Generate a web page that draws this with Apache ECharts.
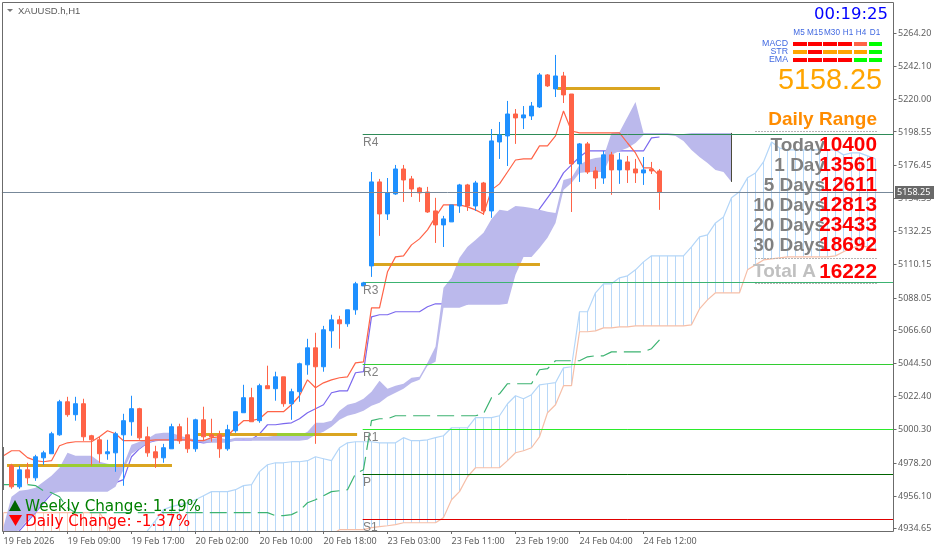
<!DOCTYPE html>
<html><head><meta charset="utf-8">
<style>html,body{margin:0;padding:0;background:#fff}#c{width:939px;height:552px}</style>
<script src="https://cdn.jsdelivr.net/npm/echarts@6/dist/echarts.min.js"></script>
</head><body><div id="c"></div>
<script>
const tickLabels=["19 Feb 2026","19 Feb 09:00","19 Feb 17:00","20 Feb 02:00","20 Feb 10:00","20 Feb 18:00","23 Feb 03:00","23 Feb 11:00","23 Feb 19:00","24 Feb 04:00","24 Feb 12:00"];
const priceTicks=[5264.20,5242.10,5220.00,5198.55,5176.45,5154.35,5132.25,5110.15,5088.05,5066.60,5044.50,5022.40,5000.30,4978.20,4956.10,4934.65];
// open, close, low, high
const candles=[
[4976.4,4962.4,4961.1,4977.7],[4962.4,4973.7,4961.1,4976.4],[4973.7,4968.4,4964.4,4978.4],[4968.4,4982.4,4966.4,4983.7],[4981.7,4985.0,4977.0,4986.4],[4984.4,4997.7,4984.4,4999.0],[4997.0,5019.0,4996.4,5020.3],[5019.0,5010.4,5009.0,5022.3],[5010.4,5017.7,5006.4,5022.3],[5017.7,4995.7,4993.0,5021.0],
[4996.4,4993.7,4976.4,4997.0],[4993.7,4984.4,4978.4,4995.7],[4984.4,4985.7,4980.4,4993.7],[4985.0,4997.7,4972.4,4999.0],[4997.0,5006.4,4963.1,5011.0],[5005.7,5014.4,4996.4,5023.0],[5014.4,4995.0,4993.7,5015.0],[4995.7,4985.0,4982.4,5002.4],[4985.7,4981.7,4975.0,4989.7],[4981.7,4988.4,4978.4,4991.0],
[4987.7,5002.4,4987.7,5004.4],[5002.4,4993.0,4991.0,5004.4],[4997.0,4987.7,4985.0,5008.4],[4987.7,5007.0,4985.7,5007.7],[5007.0,4995.7,4993.0,5015.7],[4997.0,4995.7,4992.4,5007.7],[4997.0,4987.7,4981.7,4999.7],[4987.7,5000.4,4986.4,5003.7],[4999.7,5012.4,4998.4,5012.4],[5011.7,5021.7,5011.7,5030.3],
[5021.7,5005.7,5005.7,5028.3],[5006.4,5029.7,5005.0,5031.0],[5029.7,5027.7,5027.7,5043.0],[5027.7,5035.6,5019.7,5039.0],[5035.6,5017.7,5015.7,5035.6],[5017.7,5025.7,5007.0,5027.7],[5025.7,5044.3,5019.0,5045.0],[5043.6,5054.9,5037.0,5060.9],[5054.9,5042.3,4991.0,5064.9],[5042.3,5066.9,5039.0,5069.5],
[5066.2,5073.5,5054.9,5076.9],[5073.5,5070.9,5054.3,5076.2],[5070.9,5080.2,5068.9,5080.2],[5080.2,5097.5,5076.9,5098.8],[5096.1,5098.1,5096.1,5098.8],[5109.4,5165.3,5102.1,5171.9],[5165.3,5144.0,5129.4,5167.3],[5144.0,5158.0,5140.0,5167.9],[5157.3,5173.9,5156.7,5176.6],[5173.9,5166.6,5152.0,5176.6],
[5167.3,5160.6,5155.3,5169.3],[5161.3,5158.0,5152.0,5162.0],[5158.6,5145.3,5144.7,5162.0],[5146.0,5136.7,5124.7,5154.7],[5136.7,5140.7,5122.0,5142.7],[5138.7,5150.0,5138.7,5150.0],[5149.3,5163.3,5144.7,5164.0],[5163.3,5149.3,5146.0,5164.0],[5149.3,5164.6,5146.0,5166.0],[5164.6,5146.0,5143.3,5165.3],
[5146.0,5192.6,5141.4,5200.5],[5191.9,5196.6,5180.6,5205.2],[5195.9,5210.5,5175.9,5219.2],[5210.5,5207.9,5190.6,5213.8],[5207.9,5209.9,5200.5,5215.8],[5209.2,5215.8,5206.5,5218.5],[5215.2,5236.5,5214.5,5237.8],[5236.5,5229.2,5228.5,5237.1],[5227.2,5235.8,5221.8,5249.8],[5235.8,5223.2,5217.8,5238.5],
[5223.8,5177.3,5145.3,5223.8],[5177.3,5190.6,5165.3,5191.2],[5190.6,5171.9,5170.6,5191.9],[5172.6,5167.9,5160.6,5175.3],[5167.9,5183.3,5164.0,5185.9],[5183.3,5173.3,5156.7,5185.3],[5173.3,5179.9,5164.0,5184.6],[5178.6,5173.3,5164.6,5182.6],[5173.9,5171.3,5164.6,5180.6],[5171.3,5173.3,5163.3,5181.9],
[5173.9,5172.6,5170.6,5178.6],[5172.6,5158.25,5146.7,5173.9]];
const tenkan=[4983.1,4986.4,4986.4,4981.8,4979.8,4979.1,4979.8,4989.7,4991.7,4992.4,4992.4,4992.4,4995.7,4999.7,4997.7,4993.1,4993.1,4993.1,4993.1,4993.7,4993.7,4993.7,4993.7,4993.7,4993.1,4993.1,4995.1,4995.7,4996.4,5001.7,5006.4,5006.4,5007.7,5012.4,5012.4,5012.4,5017.0,5023.0,5033.6,5028.3,5031.6,5033.6,5035.0,5035.6,5044.9,5045.6,5081.5,5081.5,5105.5,5115.4,5116.1,5123.4,5127.4,5133.4,5142.0,5150.0,5150.0,5150.0,5148.7,5146.7,5144.0,5160.0,5164.0,5171.9,5179.9,5180.6,5180.6,5189.3,5189.3,5195.9,5212.5,5199.2,5197.9,5197.9,5197.9,5197.9,5197.9,5197.9,5191.2,5184.6,5174.6,5174.6,5169.3];
const kijun=[null,4929.2,4933.2,4939.2,4945.2,4951.8,4957.8,4963.2,4964.5,4964.5,4965.2,4965.2,4965.2,4965.2,4965.2,4967.2,4982.4,4987.8,4991.7,4993.1,4993.7,4993.7,4993.7,4993.7,4992.4,4991.7,4992.4,4993.1,4993.7,4993.7,4993.7,4993.7,4997.7,5003.7,5003.7,5004.4,5005.0,5007.7,5011.7,5014.4,5017.0,5025.0,5026.3,5026.3,5038.3,5039.0,5075.5,5076.9,5076.9,5078.9,5078.9,5078.9,5078.9,5082.2,5084.2,5084.2,5084.2,5084.2,5084.2,5086.8,5088.8,5095.5,5100.8,5105.5,5106.8,5128.1,5140.0,5147.3,5154.7,5162.0,5171.3,5176.6,5181.9,5185.9,5185.9,5185.9,5185.9,5185.9,5185.9,5185.9,5185.9,5194.6,5195.2];
const cloudUpper=[4935.9,4955.8,4959.8,4960.5,4961.8,4965.8,4969.8,4975.1,4985.1,4983.1,4983.1,4983.1,4979.1,4977.8,4977.1,4977.1,4990.4,4992.4,4994.4,4997.7,4998.4,4998.4,4996.4,4995.1,4993.7,4993.7,4994.4,4995.1,4993.7,4995.1,4995.1,4995.1,4995.7,4995.7,4996.4,4997.1,4996.4,4996.4,4999.1,5005.0,5005.0,5006.4,5013.0,5017.0,5018.3,5021.0,5025.7,5033.0,5027.7,5029.7,5031.0,5035.0,5035.6,5044.9,5055.6,5094.8,5101.5,5114.8,5122.1,5126.7,5131.4,5140.7,5146.7,5146.0,5149.3,5148.7,5148.0,5146.7,5145.4,5144.7,5166.6,5168.0,5176.6,5179.9,5181.3,5181.9,5197.9,5198.6,5208.5,5218.5,5197.9,5197.9,5197.9,5197.9,5197.2,5197.2,5197.9,5197.9,5197.9,5197.9,5197.9,5197.9];
const cloudLower=[4932.6,4930.6,4933.9,4940.5,4945.2,4952.5,4957.8,4959.2,4959.2,4959.2,4959.2,4959.2,4959.2,4959.2,4962.5,4973.8,4984.4,4987.8,4991.7,4993.1,4993.1,4993.1,4993.1,4993.1,4992.4,4991.7,4991.7,4991.7,4991.7,4993.1,4993.7,4993.1,4993.1,4993.1,4993.1,4993.1,4993.1,4993.1,4993.7,4997.1,4999.1,5002.4,5007.0,5009.7,5011.0,5013.0,5016.3,5018.3,5022.3,5025.0,5027.7,5031.7,5033.6,5043.0,5045.6,5081.5,5081.5,5081.5,5083.5,5083.5,5083.5,5083.5,5083.5,5084.2,5103.5,5115.4,5115.4,5121.4,5128.1,5138.0,5160.0,5164.6,5171.3,5171.9,5171.9,5171.9,5183.3,5185.9,5187.9,5191.2,5196.6,5196.6,5196.6,5196.6,5195.9,5192.6,5186.6,5181.9,5177.9,5173.3,5171.9,5165.3];
const spanA=[4920,4920,4920,4920,4920,4920,4920,4920,4920,4920,4920,4920,4920,4920,4920,4920,4920,4920,4933.2,4939.9,4947.2,4949.2,4950.5,4951.8,4953.8,4956.5,4959.2,4959.2,4959.2,4960.5,4963.2,4963.8,4972.5,4977.1,4978.4,4978.4,4979.1,4979.1,4979.8,4982.4,4981.1,4979.8,4988.4,4991.7,4992.4,4992.4,4992.4,4991.7,4991.7,4991.7,4995.1,4993.1,4993.1,4993.7,4995.1,4996.4,5001.7,5001.7,5001.7,5008.4,5008.4,5008.4,5009.7,5017.7,5023.0,5021.0,5023.7,5030.3,5031.0,5031.7,5041.6,5042.3,5078.9,5078.9,5091.5,5097.5,5097.5,5101.5,5102.8,5106.8,5112.1,5116.1,5116.1,5116.1,5116.1,5116.1,5122.1,5128.7,5130.1,5138.0,5142.0,5154.7,5158.7,5168.0,5171.3,5178.6,5191.9,5187.9,5186.6,5186.6,5186.6,5186.6,5186.6,5186.6,5186.6,5183.3,5184.6,5184.6,5182.6,5180.6];
const spanB=[4945.2,4945.2,4945.2,4945.2,4945.2,4945.2,4945.2,4945.2,4945.2,4945.2,4945.2,4945.2,4945.2,4937.2,4924,4924,4924,4924,4924,4924,4924,4924,4924,4924,4924,4924,4924,4924,4924,4924,4924,4924,4924,4924,4924,4924,4924,4924,4924,4924,4924,4930.6,4933.9,4933.9,4933.9,4933.9,4935.2,4935.9,4936.5,4937.2,4938.5,4938.5,4938.5,4938.5,4938.5,4941.9,4953.8,4959.2,4969.1,4975.1,4975.1,4975.1,4975.1,4979.8,4985.1,4986.4,4988.4,4995.7,5011.7,5017.0,5029.7,5029.7,5065.6,5065.6,5066.2,5068.2,5068.2,5068.9,5068.9,5069.5,5069.5,5069.5,5069.5,5069.5,5069.5,5069.5,5070.2,5080.8,5086.8,5091.5,5091.5,5091.5,5091.5,5106.8,5110.1,5113.4,5114.1,5114.8,5115.4,5115.4,5115.4,5115.4,5115.4,5115.4,5116.1,5118.8,5121.4,5122.8,5122.1,5120.1];
const chikou=[4963.8,4963.8,4963.8,4963.8,4963.2,4959.8,4958.5,4955.8,4948.5,4945.2,4945.2,4945.2,4945.2,4945.2,4945.2,4945.2,4945.2,4945.2,4945.2,4945.2,4945.2,4945.2,4945.2,4945.2,4945.2,4945.2,4945.2,4945.2,4945.2,4945.2,4945.2,4945.2,4945.2,4945.2,4943.2,4943.2,4943.9,4946.5,4951.8,4953.8,4956.5,4959.2,4959.8,4960.5,4971.1,4973.8,5006.4,5007.7,5007.7,5009.7,5009.7,5009.7,5009.7,5009.7,5009.7,5009.7,5009.7,5009.7,5009.7,5009.7,5011.0,5021.7,5024.3,5031.0,5031.0,5031.0,5031.0,5040.3,5041.0,5046.3,5046.3,5046.3,5046.3,5048.9,5049.6,5049.6,5052.2,5052.2,5052.2,5052.2,5052.2,5054.3,5060.2];
// start bar, end bar, price
const goldSegments=[[0.44,21.06,4976.4],[24.3,44.2,4997.0],[46.2,67.06,5110.1],[69.2,82.06,5227.8]];
const greenSegments=[[6.8,14.06,4976.4],[34.2,38.9,4997.0],[56.8,64.2,5110.1]];
const pivotNames=["R4","R3","R2","R1","P","S1"];
const pivotPrices=[5197.0,5098.4,5043.9,5000.7,4970.8,4940.8];
const pivotColors=["#2E8B57","#3CB371","#32CD32","#2BEB2B","#006400","#E00000"];
const pivotLabelY=[143,291,373,438,483,528];
const lastPrice=5158.25;
const timeframes=["M5","M15","M30","H1","H4","D1"];
const signalNames=["MACD","STR","EMA"];
const R="#FF0000",O="#FFA500",G="#00FF00",T="#FF6347";
const signalColors=[[R,R,R,R,T,G],[O,R,O,O,O,G],[R,R,R,R,G,G]];
const rangeLabels=["Today","1 Day","5 Days","10 Days","20 Days","30 Days"];
const rangeValues=["10400","13561","12611","12813","23433","18692"];

const FONT='"Liberation Sans",Arial,sans-serif';
const N=112;
const categories=Array.from({length:N},(_,i)=>i%8===0&&tickLabels[i/8]?tickLabels[i/8]:'');
const isLabelled=i=>i%8===0&&i<=80;

const chart=echarts.init(document.getElementById('c'),null,{renderer:'canvas'});
const snap=v=>Math.floor(v)+0.5;
function segment(data,color,width,z,name){
  return {type:'custom',name,xAxisIndex:1,clip:false,z,data,encode:{x:[0,1],y:2},silent:true,
    renderItem(p,api){
      const c=typeof color==='function'?color(api.value(3)):color;
      const a=api.coord([api.value(0),api.value(2)]),b=api.coord([api.value(1),api.value(2)]);
      const y=snap(a[1]);
      return {type:'line',shape:{x1:a[0],y1:y,x2:b[0],y2:y},style:{stroke:c,lineWidth:width}};
    }};
}
function line(name,data,color,z,extra){
  return {type:'line',name,data,showSymbol:false,symbol:'none',silent:true,z,connectNulls:false,
    lineStyle:Object.assign({color,width:1.2},extra||{})};
}
const edgeIdx=cloudUpper.length-1;
const series=[
 {type:'custom',name:'hatch',z:1,silent:true,data:spanA.map((v,i)=>[i,v,spanB[i]]),encode:{x:0,y:[1,2]},
  renderItem(p,api){
    const a=api.coord([api.value(0),api.value(1)]),b=api.coord([api.value(0),api.value(2)]);
    const x=snap(a[0]);
    return {type:'line',shape:{x1:x,y1:a[1],x2:x,y2:b[1]},style:{stroke:api.value(1)>api.value(2)?'#B8D8F8':'#F8CDB8',lineWidth:1}};
  },clip:true},
 line('spanA',spanA,'#B4D6F8',2),
 line('spanB',spanB,'#F6BFA8',2),
 line('kijun',kijun,'#7B68EE',2),
 {type:'custom',name:'cloud',z:3,silent:true,clip:true,data:[[0,cloudUpper[0]]],encode:{x:0,y:1},
  renderItem(p,api){
    const pts=[];
    cloudUpper.forEach((v,i)=>pts.push(api.coord([i,v])));
    for(let i=cloudLower.length-1;i>=0;i--)pts.push(api.coord([i,cloudLower[i]]));
    return {type:'polygon',shape:{points:pts},style:{fill:'#BBB9EC'}};
  }},
 {type:'custom',name:'cloudEdge',z:4,silent:true,data:[[edgeIdx,cloudUpper[edgeIdx],cloudLower[edgeIdx]]],encode:{x:0,y:[1,2]},
  renderItem(p,api){const a=api.coord([api.value(0),api.value(1)]),b=api.coord([api.value(0),api.value(2)]);const x=snap(a[0]);
   return {type:'line',shape:{x1:x,y1:a[1],x2:x,y2:b[1]},style:{stroke:'#4a4a3a',lineWidth:1}};}},
 line('chikou',chikou,'#3CB371',4,{type:[17,7]}),
 line('tenkan',tenkan,'#FF6347',5),
 segment(goldSegments,'#DAA520',3,5,'gold'),
 segment(greenSegments,'#9ACD32',3,5,'goldOnCloud'),
 segment(pivotPrices.map((p,i)=>[44.9,111.19,p,i]),v=>pivotColors[v],1,6,'pivots'),
 {type:'candlestick',name:'XAUUSD.h',xAxisIndex:0,z:7,silent:true,barWidth:5,
  data:candles.map((c,i)=>[i+1,c[0],c[1],c[2],c[3]]),
  encode:{x:0,y:[1,2,3,4]},
  itemStyle:{color:'#1E90FF',color0:'#FF6347',borderColor:'#1E90FF',borderColor0:'#FF6347',borderColorDoji:'#1E90FF',borderWidth:1}},
 segment([[-0.2,111.19,lastPrice]],'#778899',1,8,'lastPrice'),
 // price-scale ticks, just outside the plot's right edge
 {type:'custom',name:'priceTicks',xAxisIndex:1,clip:false,z:9,silent:true,data:priceTicks.map(p=>[111.25,p]),encode:{x:0,y:1},
  renderItem(p,api){const a=api.coord([api.value(0),api.value(1)]);const y=snap(a[1]);
   return {type:'line',shape:{x1:a[0],y1:y,x2:a[0]+3,y2:y},style:{stroke:'#6b6b6b',lineWidth:1}};}}
];

const g=[];
const txt=(text,x,y,fill,font,align,extra)=>g.push(Object.assign({type:'text',z:50,x,y,silent:true,style:{text,x:0,y:0,fill,font,textAlign:align||'left',textVerticalAlign:'middle'}},extra||{}));
// frame
g.push({type:'rect',z:40,silent:true,shape:{x:2.5,y:2.5,width:891,height:529},style:{fill:'none',stroke:'#6b6b6b',lineWidth:1}});
g.push({type:'rect',z:40,silent:true,shape:{x:3,y:447,width:1,height:43},style:{fill:'#6b6b6b'}});
// header
g.push({type:'polygon',z:50,silent:true,shape:{points:[[7,9],[13,9],[10,12]]},style:{fill:'#777'}});
txt('XAUUSD.h,H1',18,11,'#5a5a5a','9.5px '+FONT);
txt('00:19:25',888,15,'#0000FF','16.5px "DejaVu Sans",sans-serif','right');
const tfX=[799,815,832,848,861,875];
timeframes.forEach((t,i)=>txt(t,tfX[i],33,'#4169E1','8.2px '+FONT,'center'));
const barX=[793,808,823,838,854,869],barW=[14,14,14,14,13,13],rowY=[42,50,58];
signalNames.forEach((s,r)=>{
  txt(s,788,rowY[r]+1.5,'#4169E1','8.8px '+FONT,'right');
  signalColors[r].forEach((c,i)=>g.push({type:'rect',z:50,silent:true,shape:{x:barX[i],y:rowY[r],width:barW[i],height:4},style:{fill:c}}));
});
txt('5158.25',882,81,'#FFA500','28.8px '+FONT,'right');
txt('Daily Range',877,120,'#FF8C00','bold 19px '+FONT,'right');
[131,258,283].forEach(y=>g.push({type:'line',z:30,silent:true,shape:{x1:755,y1:y+.5,x2:878,y2:y+.5},style:{stroke:'#b5b5b5',lineWidth:1,lineDash:[2,1]}}));
const rowsY=[145.5,165.5,185.5,205.5,225.5,245.5];
rangeLabels.forEach((l,i)=>txt(l,825,rowsY[i],'#808080','bold 19px '+FONT,'right'));
txt('Total A',753,272,'#C0C0C0','bold 19px '+FONT,'left');
rangeValues.forEach((v,i)=>txt(v,877,rowsY[i],'#FF0000','bold 20.8px '+FONT,'right'));
txt('16222',877,272,'#FF0000','bold 20.8px '+FONT,'right');
// pivots
pivotNames.forEach((n,i)=>txt(n,363,pivotLabelY[i],'#808080','12px '+FONT));
// last price tag
g.push({type:'rect',z:50,silent:true,shape:{x:895,y:186,width:39,height:13},style:{fill:'#696969'}});
txt(lastPrice.toFixed(2),897,192.5,'#ffffff','9px "Noto Sans",sans-serif');
// change labels
g.push({type:'polygon',z:50,silent:true,shape:{points:[[9,511],[21,511],[15,500]]},style:{fill:'#006400'}});
g.push({type:'polygon',z:50,silent:true,shape:{points:[[9,515],[22,515],[15.5,526]]},style:{fill:'#FF0000'}});
txt('Weekly Change: 1.19%',25,507,'#008000','15.2px "DejaVu Sans",sans-serif');
txt('Daily Change: -1.37%',25,522,'#FF0000','15.2px "DejaVu Sans",sans-serif');

chart.setOption({
 animation:false,
 backgroundColor:'#fff',
 grid:{left:3.5,top:2,width:888,height:529,containLabel:false},
 xAxis:[
  {type:'category',data:categories,boundaryGap:false,position:'bottom',
   axisLine:{show:false},
   axisTick:{show:true,length:3,interval:i=>isLabelled(i),lineStyle:{color:'#6b6b6b'}},
   axisLabel:{show:true,interval:i=>isLabelled(i),align:'left',margin:6,color:'#606060',fontFamily:'"Noto Sans",sans-serif',fontSize:9},
   splitLine:{show:false}},
  {type:'value',min:0,max:111,show:false,splitLine:{show:false}}
 ],
 yAxis:{type:'value',position:'right',offset:1.5,min:4933.0,max:5285.03,scale:true,splitLine:{show:false},
   axisLine:{show:false},
   axisTick:{show:false},
   axisLabel:{show:true,customValues:priceTicks,margin:5,color:'#606060',fontFamily:'"Noto Sans",sans-serif',fontSize:9,formatter:v=>v.toFixed(2)}},
 series,
 graphic:g
});
</script></body></html>
